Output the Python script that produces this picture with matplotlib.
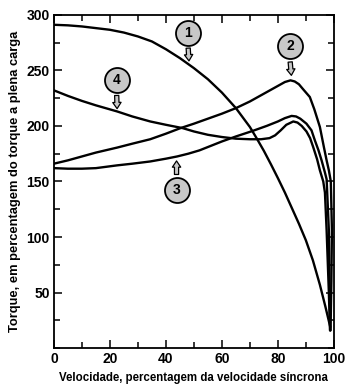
import matplotlib
matplotlib.use("Agg")
import matplotlib.pyplot as plt
from matplotlib.patches import FancyArrowPatch

plt.rcParams.update({"font.family": ["Liberation Sans", "DejaVu Sans"],
                     "font.weight": "bold"})

# curves: speed (% of synchronous) -> torque (% of full load)
c1_x = [0, 5, 10, 15, 20, 25, 30, 35, 40, 45, 50, 55, 60, 65, 70, 72.5, 75, 77.5, 80, 82.5,
        85, 87.5, 90, 92.5, 95, 97, 98.7]
c1_y = [291, 290.5, 289.5, 288, 286.5, 284, 280.5, 276, 269, 261, 252, 242, 230, 216, 199, 188.5, 177.5, 165.5, 153, 140,
        126, 112, 97, 79, 57, 37, 19]

c2_x = [0, 5, 10, 15, 22.6, 28, 34.4, 40, 45.2, 50, 55, 60, 65, 70, 75, 80, 82.5, 84.5, 86, 87.5,
        89, 91.4, 93, 95, 96.5, 97.4, 98.2, 98.9, 99.3, 99.1, 98.8]
c2_y = [166, 169, 172.5, 176, 180.5, 184, 188, 193, 198, 202, 206.5, 211, 216, 222, 229, 236, 239.5, 241, 240, 237.5,
        233, 226, 215, 199, 180, 169, 160, 150, 106, 60, 16]

c3_x = [0, 5, 10, 15, 22.6, 28, 34.4, 40, 44, 48, 52, 56, 60, 65, 71, 76, 80, 82.5, 84.9, 86.5,
        88, 90.2, 92, 93.2, 94.5, 95.6, 96.8, 97.4, 98.2, 98.5, 98.7]
c3_y = [162, 161.5, 161.5, 162, 164.5, 166, 168, 170.5, 172.5, 175, 178, 182, 186, 190.5, 195.5, 200, 204, 207, 209, 208.5,
        206.5, 202, 196, 187, 178, 169, 158, 152, 106, 50, 16]

c4_x = [0, 5, 10, 15, 22.6, 28, 34.4, 40, 46, 50, 55, 60, 65, 70, 74, 77, 79, 81, 83, 85.5,
        87, 88.5, 90.2, 91.5, 92.6, 94, 95, 96.2, 96.8, 97.4, 98.2, 98.6]
c4_y = [232, 227, 222.5, 218.5, 213, 208.5, 204, 201, 198, 195, 192, 190, 188.5, 188, 188, 189, 191.5, 196, 201, 204,
        203, 200, 195, 189, 181, 170, 160, 150, 140, 106, 50, 16]

curve_labels = ["1", "2", "3", "4"]

fig = plt.figure(figsize=(3.5, 3.89), dpi=100)
ax = fig.add_axes([0.154, 0.105, 0.800, 0.857])

for xs, ys in [(c1_x, c1_y), (c2_x, c2_y), (c3_x, c3_y), (c4_x, c4_y)]:
    ax.plot(xs, ys, color="black", lw=1.7, solid_capstyle="round", solid_joinstyle="round")

# numbered callouts: (circle centre, arrow tip)
callouts = [((47.9, 284), (48.3, 256)),
            ((84.3, 271.5), (84.9, 243)),
            ((43.8, 142.3), (43.8, 171)),
            ((22.4, 241.4), (22.6, 213))]
r = 11.5
for lab, ((cx, cy), (tx, ty)) in zip(curve_labels, callouts):
    sy = cy - r if ty < cy else cy + r
    ax.add_patch(FancyArrowPatch((cx, sy), (tx, ty), mutation_scale=10,
                                 arrowstyle="simple,head_length=0.45,head_width=0.6,tail_width=0.3",
                                 fc="#c8c8c8", ec="black", lw=0.9, zorder=4))
    ax.plot(cx, cy, "o", ms=18, mfc="#c8c8c8", mec="black", mew=1.3, zorder=5)
    ax.text(cx, cy, lab, ha="center", va="center", fontsize=10, fontweight="bold", zorder=6)

ax.set_xlim(0, 100)
ax.set_ylim(0, 300)
ax.set_xticks(range(0, 101, 20))
ax.set_xticks(range(0, 101, 10), minor=True)
ax.set_yticks(range(50, 301, 50))
ax.set_yticks(range(0, 301, 25), minor=True)
ax.tick_params(which="both", direction="in", top=True, right=True, width=1.1,
               labelsize=10, pad=3)
ax.tick_params(which="major", length=6)
ax.tick_params(which="minor", length=4)
for s in ax.spines.values():
    s.set_linewidth(1.3)

ax.set_xlabel("Velocidade, percentagem da velocidade síncrona", fontsize=8.3,
              fontweight="bold", labelpad=4)
ax.set_ylabel("Torque, em percentagem do torque a plena carga", fontsize=9.3,
              fontweight="bold", labelpad=4)

fig.savefig("out.png", dpi=100)
